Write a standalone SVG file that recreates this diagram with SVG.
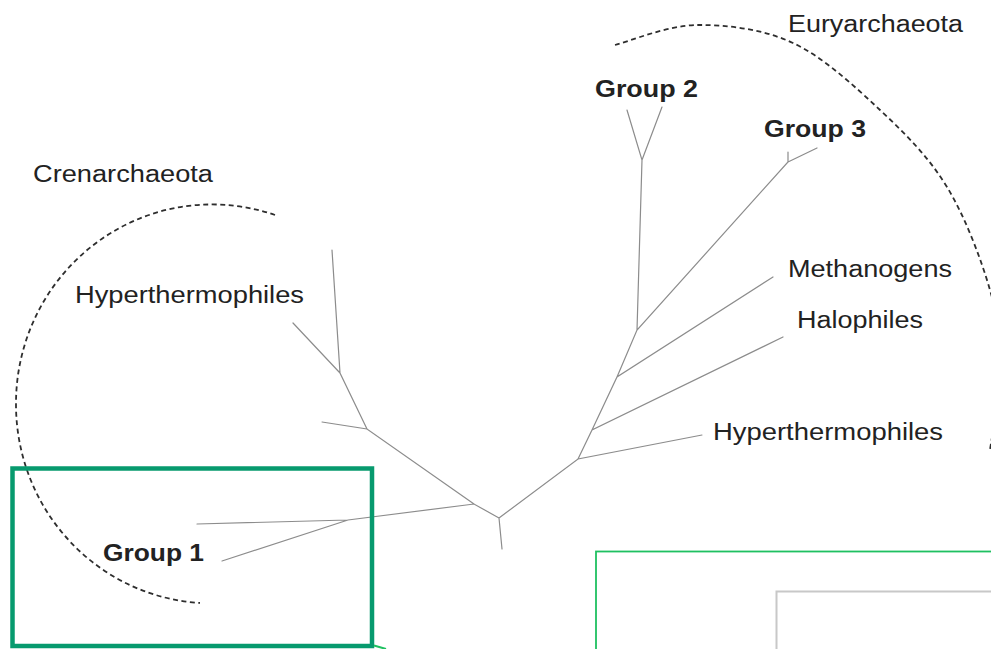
<svg xmlns="http://www.w3.org/2000/svg" width="991" height="649" viewBox="0 0 991 649">
<style>
.br{stroke:#8c8c8c;stroke-width:1.2;fill:none;stroke-linecap:round}
.arc{stroke:#2e2e2e;stroke-width:1.8;fill:none;stroke-dasharray:5 3.5}
.lbl{font-family:"Liberation Sans",Arial,sans-serif;font-size:23px;fill:#222}
.bold{font-weight:bold}
</style>
<rect width="991" height="649" fill="#fff"/>
<g id="connectors">
<path class="br" d="M499,518 L502,549 M499,518 L474,504 L348,520 L197,524 M348,520 L222,561 M474,504 L367,429 L322,422 M367,429 L340,373 L332,250 M340,373 L293,323 M499,518 L578,459 L702,435 M578,459 L592,430 L783,337 M592,430 L617,377 L773,277 M617,377 L637,330 L788,162 L788,152 M788,162 L817,148 M637,330 L642,160 L627,110 M642,160 L662,107"/>
</g>
<g id="crenarchaeota-arc">
<path class="arc" d="M275,215 A196,199 0 0 0 16,404 A196,199 0 0 0 200,603"/>
</g>
<g id="euryarchaeota-arc">
<path class="arc" d="M615,45 C628.7,41.7 667.3,25.3 697,25 C726.7,24.7 762.5,28.8 793,43 C823.5,57.2 854.3,86 880,110 C905.7,134 928.7,157 947,187 C965.3,217 981.2,259.5 990,290 C998.8,320.5 1000,343.3 1000,370 C1000,396.7 991.7,436.7 990,450"/>
</g>
<g id="label-euryarchaeota"><text class="lbl" x="788" y="32" textLength="175" lengthAdjust="spacingAndGlyphs">Euryarchaeota</text></g>
<g id="label-crenarchaeota"><text class="lbl" x="33" y="182" textLength="180" lengthAdjust="spacingAndGlyphs">Crenarchaeota</text></g>
<g id="label-hyperthermophiles-cren"><text class="lbl" x="75" y="303" textLength="229" lengthAdjust="spacingAndGlyphs">Hyperthermophiles</text></g>
<g id="label-group1"><text class="lbl bold" x="103" y="561" textLength="101" lengthAdjust="spacingAndGlyphs">Group 1</text></g>
<g id="label-group2"><text class="lbl bold" x="595" y="97" textLength="103" lengthAdjust="spacingAndGlyphs">Group 2</text></g>
<g id="label-group3"><text class="lbl bold" x="764" y="137" textLength="102" lengthAdjust="spacingAndGlyphs">Group 3</text></g>
<g id="label-methanogens"><text class="lbl" x="788" y="277" textLength="164" lengthAdjust="spacingAndGlyphs">Methanogens</text></g>
<g id="label-halophiles"><text class="lbl" x="797" y="328" textLength="126" lengthAdjust="spacingAndGlyphs">Halophiles</text></g>
<g id="label-hyperthermophiles-eury"><text class="lbl" x="713" y="440" textLength="230" lengthAdjust="spacingAndGlyphs">Hyperthermophiles</text></g>
<g id="highlight-box">
<rect x="12.5" y="468.5" width="359.5" height="177.5" fill="none" stroke="#079a6e" stroke-width="4.5"/>
<path d="M374,645.5 L386,649" stroke="#1ec060" stroke-width="2" fill="none"/>
</g>
<g id="panel-outer"><rect x="596" y="551.5" width="420" height="120" fill="none" stroke="#1fc061" stroke-width="1.8"/></g>
<g id="panel-inner"><rect x="776.5" y="591.5" width="240" height="80" fill="none" stroke="#c8c8c8" stroke-width="2"/></g>
</svg>
